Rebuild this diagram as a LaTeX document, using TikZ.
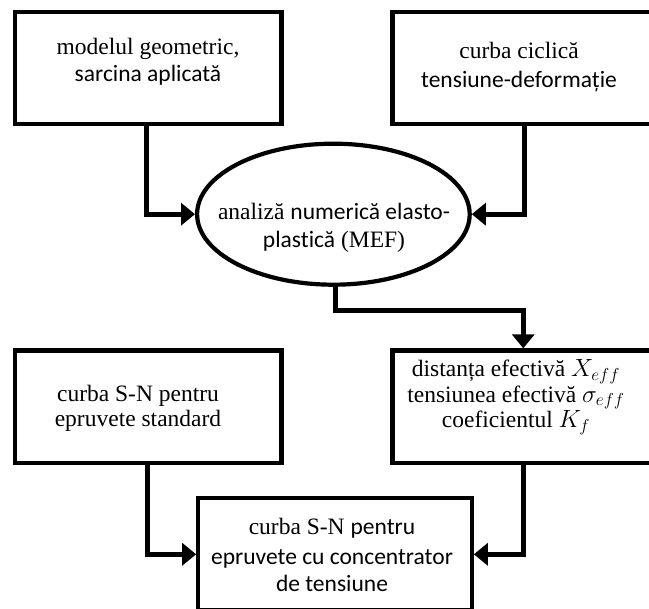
\documentclass[tikz,border=0pt]{standalone}
\usepackage{fontspec}
\setmainfont{Liberation Serif}[Ligatures=NoCommon]
\newfontfamily\carl{Carlito}[Ligatures=NoCommon]
\usetikzlibrary{arrows.meta,shapes.geometric}
\begin{document}
\begin{tikzpicture}[x=1pt,y=-1pt,
  box/.style={draw, line width=4.3pt, rectangle, inner sep=0pt,
              minimum width=266.5pt, minimum height=112.3pt},
  oval/.style={draw, line width=4.2pt, ellipse, inner sep=0pt,
               minimum width=272.6pt, minimum height=141pt},
  txt/.style={anchor=base, inner sep=0pt,
              font=\fontsize{23.5}{25.5}\selectfont},
  conn/.style={line width=5pt, -{Triangle[length=14pt,width=22pt]}}]

  % canvas
  \fill[white] (0,0) rectangle (649,609);
  \useasboundingbox (0,0) rectangle (649,609);
  \clip (0,0) rectangle (649,609);

  % frames
  \node[box]  (geom)  at (148.25,67.85)  {};
  \node[box]  (curve) at (525.75,67.85)  {};
  \node[oval] (fem)   at (333.4,214.2)   {};
  \node[box]  (sn)    at (148.25,406.65) {};
  \node[box]  (eff)   at (525.75,406.65) {};
  \node[box, minimum width=273.4pt] (res) at (335,554.3) {};

  % texts
  \node[txt] (geomtxt) at (148,55) {\begin{tabular}[t]{@{}c@{}}
      modelul geometric,\\[1pt] {\carl sarcina aplicată}\end{tabular}};
  \node[txt] (curvetxt) at (519,59) {\begin{tabular}[t]{@{}c@{}}
      curba ciclică\\[3.5pt] {\carl tensiune-deformație}\end{tabular}};
  \node[txt] (femtxt) at (334,220) {\begin{tabular}[t]{@{}c@{}}
      analiză {\carl numerică elasto-}\\[2.5pt] {\carl plastică} (MEF)\end{tabular}};
  \node[txt] (sntxt) at (138,401.7) {\begin{tabular}[t]{@{}c@{}}
      curba S-N pentru\\[-0.5pt] epruvete standard\end{tabular}};
  \node[txt] (efftxt) at (516,376.7) {\begin{tabular}[t]{@{}c@{}}
      distanța efectivă $X_{eff}$\\ tensiunea efectivă $\sigma_{eff}$\\
      coeficientul $K_f$\end{tabular}};
  \node[txt] (restxt) at (332,535) {\begin{tabular}[t]{@{}c@{}}
      curba S-N {\carl pentru}\\[4.5pt] {\carl epruvete cu concentrator}\\[1.5pt]
      {\carl de tensiune}\end{tabular}};

  % connectors
  \draw[conn] ([xshift=-2.25pt]geom.south) |- (fem.west);
  \draw[conn] ([xshift=-1.75pt]curve.south) |- (fem.east);
  \draw[conn] ([xshift=2.5pt]fem.south) -- ++(0,23.3) -| ([xshift=-2.5pt]eff.north);
  \draw[conn] ([xshift=-1.25pt]sn.south) |- (res.west);
  \draw[conn] ([xshift=-2.5pt]eff.south) |- (res.east);
\end{tikzpicture}
\end{document}
